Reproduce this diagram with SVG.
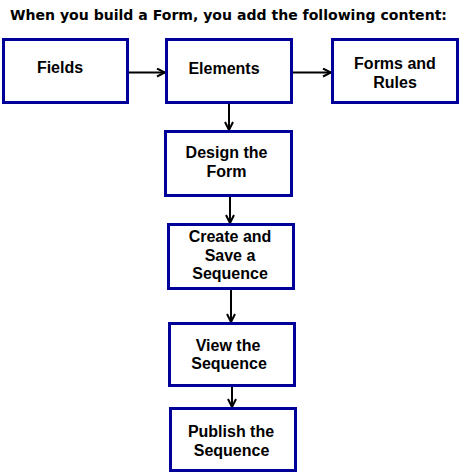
<svg xmlns="http://www.w3.org/2000/svg" width="461" height="473" viewBox="0 0 461 473">
<style>
.box{fill:#fff;stroke:#000099;stroke-width:3}
.lbl{font-family:"Liberation Sans",Arial,sans-serif;font-weight:bold;font-size:16px;fill:#000;text-anchor:middle}
.title{font-family:"DejaVu Sans",Verdana,sans-serif;font-weight:bold;font-size:14px;fill:#000}
.con{stroke:#000;stroke-width:2;fill:none;marker-end:url(#arr)}
</style>
<defs>
<marker id="arr" viewBox="0 0 10 10" refX="9" refY="5" markerWidth="5" markerHeight="5" orient="auto" markerUnits="strokeWidth">
<path d="M1,1 L9,5 L1,9" fill="none" stroke="#000" stroke-width="2"/>
</marker>
</defs>
<rect width="461" height="473" fill="#fff"/>
<text class="title" x="10" y="20" textLength="437" lengthAdjust="spacingAndGlyphs">When you build a Form, you add the following content:</text>
<g id="connectors">
<line class="con" x1="129" y1="72.5" x2="165" y2="72.5"/>
<line class="con" x1="293" y1="72.5" x2="331" y2="72.5"/>
<line class="con" x1="229" y1="104" x2="229" y2="130"/>
<line class="con" x1="230" y1="197" x2="230" y2="223"/>
<line class="con" x1="231" y1="290" x2="231" y2="322"/>
<line class="con" x1="232" y1="387" x2="232" y2="407"/>
</g>
<g id="fields">
<rect class="box" x="3.5" y="39.5" width="124" height="63"/>
<text class="lbl" x="60" y="72.5">Fields</text>
</g>
<g id="elements">
<rect class="box" x="166.5" y="39.5" width="125" height="63"/>
<text class="lbl" x="224" y="74">Elements</text>
</g>
<g id="forms-rules">
<rect class="box" x="332.5" y="39.5" width="125" height="63"/>
<text class="lbl" x="395" y="69">Forms and</text>
<text class="lbl" x="395" y="88">Rules</text>
</g>
<g id="design-form">
<rect class="box" x="165.5" y="131.5" width="126" height="64"/>
<text class="lbl" x="226.5" y="157.5">Design the</text>
<text class="lbl" x="226.5" y="176.5">Form</text>
</g>
<g id="create-save">
<rect class="box" x="168.5" y="224.5" width="125" height="64"/>
<text class="lbl" x="230" y="241.5">Create and</text>
<text class="lbl" x="230" y="260.5">Save a</text>
<text class="lbl" x="230" y="279">Sequence</text>
</g>
<g id="view-sequence">
<rect class="box" x="169.5" y="323.5" width="125" height="62"/>
<text class="lbl" x="228" y="350.5">View the</text>
<text class="lbl" x="229" y="369">Sequence</text>
</g>
<g id="publish-sequence">
<rect class="box" x="170.5" y="408.5" width="125" height="62"/>
<text class="lbl" x="231" y="437">Publish the</text>
<text class="lbl" x="231.5" y="455.5">Sequence</text>
</g>
</svg>
